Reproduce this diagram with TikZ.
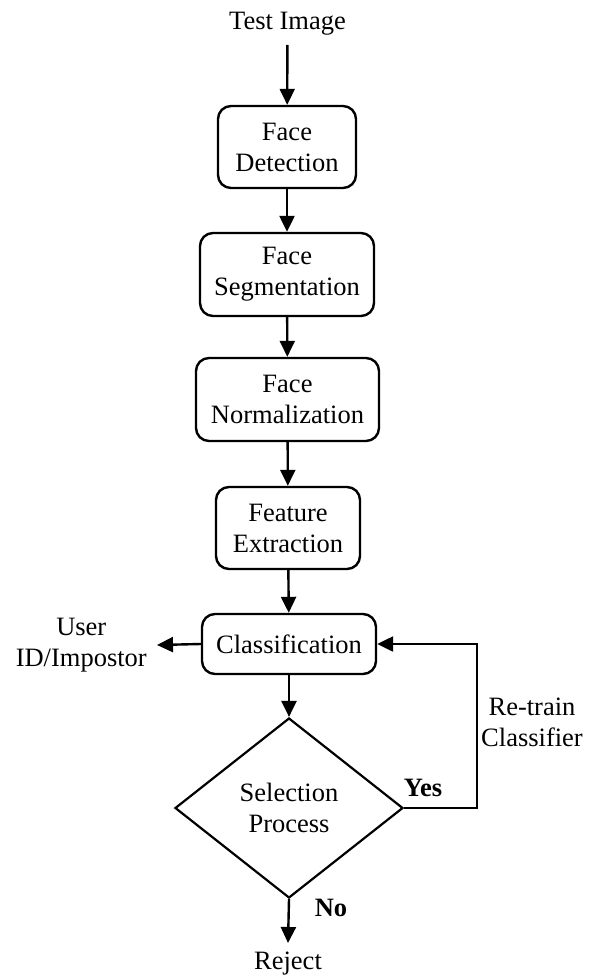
\documentclass[tikz,border=0pt]{standalone}
\usepackage{fontspec}
\setmainfont{Liberation Serif}
\usetikzlibrary{arrows.meta,shapes.geometric}
\begin{document}
\begin{tikzpicture}[x=1pt,y=-1pt,
  every node/.style={font=\fontsize{26.5}{31}\selectfont, align=center},
  box/.style={draw, line width=2.4pt, rounded corners=13pt, inner sep=0pt},
  dec/.style={draw, diamond, line width=2.2pt, inner sep=0pt, minimum width=228pt, minimum height=180pt},
  arr/.style={line width=2.4pt, -{Triangle[length=16pt,width=15pt]}},
  ln/.style={line width=2.4pt}]
\useasboundingbox (0,0) rectangle (597,976);
\node[anchor=south, inner sep=0pt, inner ysep=10pt] (ti) at (287.5,45) {Test Image};
\node[box, minimum width=138pt, minimum height=82pt] (fd) at (287,147) {Face\\Detection};
\node[box, minimum width=174pt, minimum height=83pt] (fs) at (287,274.5) {Face\\Segmentation};
\node[box, minimum width=183pt, minimum height=83pt] (fn) at (287.5,399.5) {Face\\Normalization};
\node[box, minimum width=144pt, minimum height=82pt] (fe) at (288,528) {Feature\\Extraction};
\node[box, minimum width=174pt, minimum height=60pt] (cl) at (289,644) {Classification};
\node[dec] (sp) at (289,808) {Selection\\Process};
\node[anchor=east, inner sep=0pt, inner xsep=10pt] (uid) at (157,645) {User\\ID/Impostor};
\node (rt) at (532,722) {Re-train\\Classifier};
\node[font=\fontsize{26.5}{31}\selectfont\bfseries] (yes) at (423,788) {Yes};
\node[font=\fontsize{26.5}{31}\selectfont\bfseries] (no) at (331,908) {No};
\node[anchor=north, inner sep=0pt, inner ysep=9pt] (rej) at (288,943) {Reject};
\coordinate (lp) at (477,0);
\draw[arr] (ti) -- (fd);
\draw[arr] (fd) -- (fs);
\draw[arr] (fs) -- (fn);
\draw[arr] (fn) -- (fe);
\draw[arr] (fe) -- (cl);
\draw[arr] (cl) -- (sp.north);
\draw[arr] (cl.west) -- (uid.east);
\draw[arr] (sp.south) -- (rej.north);
\draw[arr, rounded corners=0pt] (sp.east) -- (sp.east -| lp) -- (lp |- cl.east) -- (cl.east);
\end{tikzpicture}
\end{document}
